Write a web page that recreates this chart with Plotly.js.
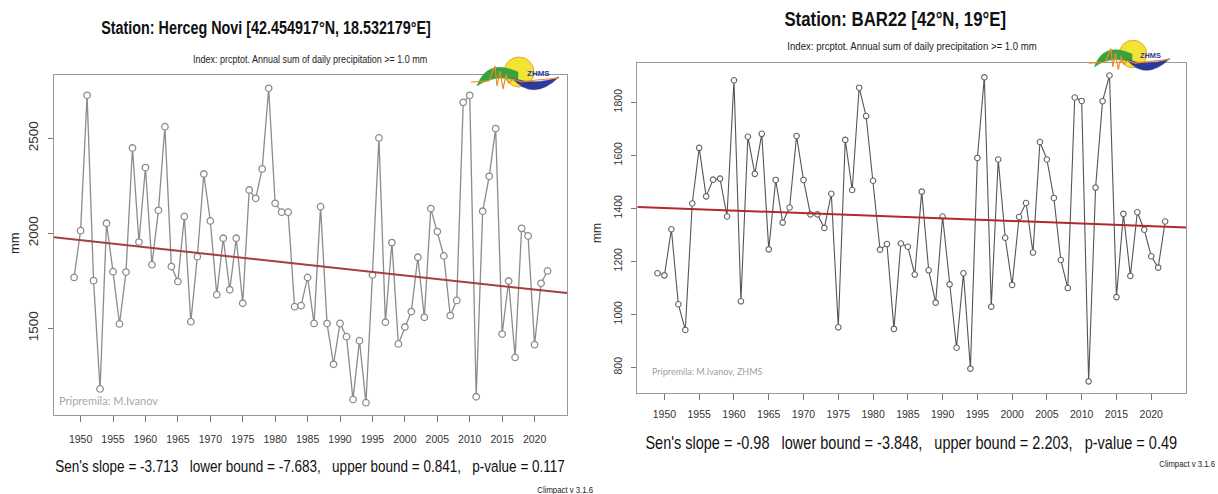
<!DOCTYPE html>
<html>
<head>
<meta charset="utf-8">
<script src="https://cdn.plot.ly/plotly-3.0.1.min.js"></script>
<style>html,body{margin:0;padding:0;background:#fff;}#chart{width:1218px;height:494px;}</style>
</head>
<body>
<div id="chart"></div>
<script>
// ---------- DATA ----------
const years = [1949,1950,1951,1952,1953,1954,1955,1956,1957,1958,1959,1960,1961,1962,1963,1964,1965,1966,1967,1968,1969,1970,1971,1972,1973,1974,1975,1976,1977,1978,1979,1980,1981,1982,1983,1984,1985,1986,1987,1988,1989,1990,1991,1992,1993,1994,1995,1996,1997,1998,1999,2000,2001,2002,2003,2004,2005,2006,2007,2008,2009,2010,2011,2012,2013,2014,2015,2016,2017,2018,2019,2020,2021,2022];

// Herceg Novi prcptot (mm)
const hercegNovi = [1768,2014,2726,1751,1181,2053,1798,1523,1796,2449,1954,2346,1835,2121,2561,1825,1746,2089,1535,1877,2312,2065,1677,1974,1703,1974,1632,2228,2184,2339,2763,2158,2111,2111,1614,1619,1768,1526,2140,1525,1311,1526,1456,1126,1435,1109,1781,2502,1532,1951,1418,1507,1588,1874,1558,2130,2009,1881,1567,1647,2689,2726,1140,2116,2300,2551,1470,1749,1347,2026,1986,1414,1737,1802];

// BAR22 prcptot (mm)
const bar22 = [1155,1147,1321,1038,941,1418,1628,1445,1508,1512,1369,1883,1049,1670,1530,1681,1245,1507,1346,1403,1673,1507,1377,1377,1326,1455,951,1658,1469,1855,1748,1504,1244,1265,945,1267,1255,1150,1463,1166,1044,1369,1113,874,1155,795,1590,1894,1029,1584,1289,1111,1367,1420,1233,1650,1584,1439,1205,1099,1818,1805,747,1478,1804,1901,1065,1379,1145,1385,1319,1219,1176,1350];

// Sen's slope trend lines (slope per year, value at 1949)
const trendLeft = {slope: -3.713, at1949: 1967.5};
const trendRight = {slope: -0.98, at1949: 1402.2};

const xTicksVals = [1950,1955,1960,1965,1970,1975,1980,1985,1990,1995,2000,2005,2010,2015,2020];
const yTicksLeft = [1500,2000,2500];
const yTicksRight = [800,1000,1200,1400,1600,1800];

const titleLeft = "Station: Herceg Novi [42.454917°N, 18.532179°E]";
const titleRight = "Station: BAR22 [42°N, 19°E]";
const subtitle = "Index: prcptot. Annual sum of daily precipitation >= 1.0 mm";
const statsLeft = "Sen's slope = -3.713&nbsp;&nbsp; lower bound = -7.683,&nbsp;&nbsp; upper bound = 0.841,&nbsp;&nbsp; p-value = 0.117";
const statsRight = "Sen's slope = -0.98&nbsp;&nbsp; lower bound = -3.848,&nbsp;&nbsp; upper bound = 2.203,&nbsp;&nbsp; p-value = 0.49";

// ---------- LAYOUT HELPERS ----------
const W = 1218, H = 494;
const px = x => x / W;
const py = y => 1 - y / H;
const SANS = "Liberation Sans, Arial, sans-serif";

const xRangeL = [1945.9, 2025.0], yRangeL = [1044, 2833];
const xRangeR = [1946.1, 2025.0], yRangeR = [702, 1947];

function trendTrace(t, xr, xa, ya, color) {
  return {
    x: xr, y: xr.map(v => t.at1949 + t.slope * (v - 1949)),
    xaxis: xa, yaxis: ya, mode: 'lines', hoverinfo: 'skip',
    line: {color: color, width: 2}
  };
}

const traces = [
  {x: years, y: hercegNovi, xaxis: 'x', yaxis: 'y', mode: 'lines+markers',
   line: {color: '#8c8c8c', width: 1.3},
   marker: {symbol: 'circle', size: 6.5, color: '#fff', line: {color: '#8c8c8c', width: 1.3}}},
  trendTrace(trendLeft, xRangeL, 'x', 'y', '#a5403f'),
  {x: years, y: bar22, xaxis: 'x2', yaxis: 'y2', mode: 'lines+markers',
   line: {color: '#555', width: 1.1},
   marker: {symbol: 'circle', size: 5.5, color: '#fff', line: {color: '#666', width: 1.1}}},
  trendTrace(trendRight, xRangeR, 'x2', 'y2', '#b02a2a')
];

function xaxisCfg(domain, range, anchor, standoff) {
  return {domain: domain, range: range, anchor: anchor, tickvals: xTicksVals, ticks: 'outside', ticklen: 6,
    tickcolor: '#777', tickwidth: 1, showline: true, mirror: true, linecolor: '#999', linewidth: 1,
    showgrid: false, zeroline: false, tickfont: {family: SANS, size: 10.5, color: '#333'},
    ticklabelstandoff: standoff, fixedrange: true};
}
function yaxisCfg(domain, range, ticks, fsize, anchor, standoff) {
  return {domain: domain, range: range, tickvals: ticks, ticks: 'outside', ticklen: 5,
    tickcolor: '#777', tickwidth: 1, showline: true, mirror: true, linecolor: '#999', linewidth: 1,
    showgrid: false, zeroline: false, tickangle: -90, anchor: anchor,
    tickfont: {family: SANS, size: fsize, color: '#333'}, ticklabelstandoff: standoff, fixedrange: true};
}

// annotations; indices in "narrowIdx" get horizontally condensed after drawing
const annotations = [];
const narrowIdx = [];
function ann(x, y, text, size, opts, narrow) {
  const o = Object.assign({
    xref: 'paper', yref: 'paper', x: px(x), y: py(y), text: text, showarrow: false,
    xanchor: 'center', yanchor: 'middle', font: {family: SANS, size: size, color: '#111'}
  }, opts || {});
  if (narrow) narrowIdx.push(annotations.length);
  annotations.push(o);
}

ann(266, 28, '<b>' + titleLeft + '</b>', 17.5, null, true);
ann(310, 59, subtitle, 11, {font: {family: SANS, size: 11, color: '#222'}}, true);
ann(895, 18, '<b>' + titleRight + '</b>', 20.5, null, true);
ann(912, 46, subtitle, 11.7, {font: {family: SANS, size: 11.7, color: '#222'}}, true);
ann(15, 243, 'mm', 13, {textangle: -90, font: {family: SANS, size: 13, color: '#222'}});
ann(597, 233, 'mm', 12, {textangle: -90, font: {family: SANS, size: 12, color: '#222'}});
ann(310, 466, statsLeft, 16.5, null, true);
ann(911, 443, statsRight, 17.7, null, true);
ann(595, 489, 'Climpact v 3.1.6', 9.5, {xanchor: 'right', font: {family: SANS, size: 9.5, color: '#222'}}, true);
ann(1217, 463, 'Climpact v 3.1.6', 9.5, {xanchor: 'right', font: {family: SANS, size: 9.5, color: '#222'}}, true);
ann(57, 400, 'Pripremila: M.Ivanov', 11, {xanchor: 'left', font: {family: 'Lato, Open Sans, sans-serif', size: 11, color: '#a8a8a8'}});
ann(650, 371, 'Pripremila: M.Ivanov, ZHMS', 9, {xanchor: 'left', font: {family: 'Lato, Open Sans, sans-serif', size: 9, color: '#a0a0a0'}});

// ---------- ZHMS LOGO (decorative) ----------
const shapes = [];
function pathFrom(cx, cy, s, cmds) {
  return cmds.map(c => {
    if (typeof c === 'string') return c;
    return px(cx + c[0] * s) + ',' + py(cy + c[1] * s);
  }).join(' ');
}
function logo(cx, cy, s) {
  shapes.push({type: 'circle', xref: 'paper', yref: 'paper',
    x0: px(cx - 15 * s), x1: px(cx + 15 * s), y0: py(cy + 15 * s), y1: py(cy - 15 * s),
    fillcolor: '#f3e333', line: {color: '#e8a33a', width: 1}, layer: 'above'});
  shapes.push({type: 'path', xref: 'paper', yref: 'paper', layer: 'above',
    path: pathFrom(cx, cy, s, ['M', [-42, 14], 'Q', [-32, -14], [-1, 0], 'L', [-1, 9], 'Q', [-24, 1], [-42, 14], 'Z']),
    fillcolor: '#3aa23c', line: {color: '#3aa23c', width: 0.5}});
  shapes.push({type: 'path', xref: 'paper', yref: 'paper', layer: 'above',
    path: pathFrom(cx, cy, s, ['M', [-7, 6], 'Q', [14, 30], [40, 5], 'Q', [16, 14], [-7, 6], 'Z']),
    fillcolor: '#2b3a98', line: {color: '#2b3a98', width: 0.5}});
  shapes.push({type: 'path', xref: 'paper', yref: 'paper', layer: 'above',
    path: pathFrom(cx, cy, s, ['M', [-48, 10], 'L', [-30, 9], 'L', [-27, 1], 'L', [-24, -6], 'L', [-22, 14],
      'L', [-19, -1], 'L', [-16, 17], 'L', [-13, 3], 'L', [-10, 11], 'L', [-6, 7], 'L', [2, 10], 'L', [18, 8], 'L', [40, 6]]),
    line: {color: '#ee8a2a', width: 1.2}});
  annotations.push({xref: 'paper', yref: 'paper', x: px(cx + 19 * s), y: py(cy + 2 * s), showarrow: false,
    text: '<b>ZHMS</b>', font: {family: SANS, size: 8 * s, color: '#2b3a98'}, xanchor: 'center', yanchor: 'middle'});
}
logo(519, 72, 1);
logo(1133, 54, 0.92);

const layout = {
  width: W, height: H, margin: {l: 0, r: 0, t: 0, b: 0},
  paper_bgcolor: '#fff', plot_bgcolor: '#fff', showlegend: false,
  xaxis: xaxisCfg([px(54), px(567)], xRangeL, 'y', 8),
  yaxis: yaxisCfg([py(415), py(75)], yRangeL, yTicksLeft, 13.5, 'x', 5),
  xaxis2: xaxisCfg([px(637.3), px(1186)], xRangeR, 'y2', 5),
  yaxis2: yaxisCfg([py(393.3), py(63.3)], yRangeR, yTicksRight, 10.5, 'x2', 5),
  annotations: annotations, shapes: shapes
};

Plotly.newPlot('chart', traces, layout, {staticPlot: true, displayModeBar: false}).then(gd => {
  // R/Helvetica text in the reference is horizontally condensed
  gd.querySelectorAll('g.annotation').forEach(g => {
    const idx = +g.getAttribute('data-index');
    if (narrowIdx.indexOf(idx) < 0) return;
    const t = g.querySelector('text.annotation-text');
    if (!t) return;
    const xa = annotations[idx].xanchor;
    t.style.transformBox = 'fill-box';
    t.style.transformOrigin = xa === 'right' ? 'right center' : (xa === 'left' ? 'left center' : 'center');
    t.style.transform = 'scaleX(0.82)';
  });
});
</script>
</body>
</html>
